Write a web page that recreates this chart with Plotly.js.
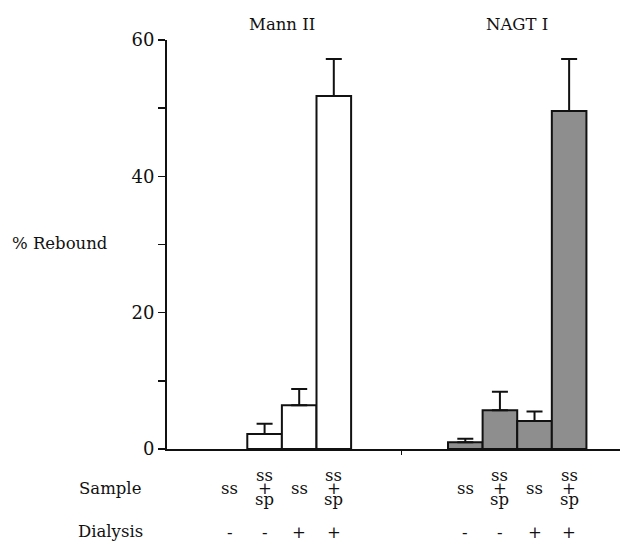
<!DOCTYPE html>
<html>
<head>
<meta charset="utf-8">
<script src="https://cdn.plot.ly/plotly-3.0.1.min.js"></script>
<style>html,body{margin:0;padding:0;background:#fff;}#chart{width:634px;height:544px;}</style>
</head>
<body>
<div id="chart"></div>
<script>
// ---- data ----
var groups = ["Mann II", "NAGT I"];
var sampleLabels = ["ss", "ss+sp", "ss", "ss+sp"];
var dialysisLabels = ["-", "-", "+", "+"];
var mannValues = [0, 2.2, 6.4, 51.8];
var mannErrors = [0, 1.5, 2.4, 5.4];
var nagtValues = [1.0, 5.7, 4.1, 49.6];
var nagtErrors = [0.5, 2.7, 1.4, 7.6];
var yTicks = [0, 10, 20, 30, 40, 50, 60];
var yTickText = ["0", "", "20", "", "40", "", "60"];

// ---- layout helpers ----
var groupStart = [0, 6.8];
function xs(g) { return sampleLabels.map(function (_, i) { return groupStart[g] + i; }); }
var serif = "DejaVu Serif, Liberation Serif, serif";
var FS = 16.5;
var plotTop = 40, plotBottom = 449, H = 544, W = 634;
var plotLeft = 167, plotRight = 620;
function py(pix) { return (plotBottom - pix) / (plotBottom - plotTop); }
function px(pix) { return (pix - plotLeft) / (plotRight - plotLeft); }

function barTrace(g, vals, errs, fill) {
  return {
    type: "bar", x: xs(g), y: vals, width: 1,
    marker: { color: fill, line: { color: "#111", width: vals.map(function (v) { return v > 0 ? 2 : 0; }) } },
    error_y: { type: "data", symmetric: false,
               array: errs.map(function (e, i) { return vals[i] > 0 ? e : NaN; }),
               arrayminus: errs.map(function (e, i) { return vals[i] > 0 ? 0 : NaN; }),
               color: "#111", thickness: 2, width: 8 },
    hoverinfo: "none"
  };
}
var traces = [
  barTrace(0, mannValues, mannErrors, "#ffffff"),
  barTrace(1, nagtValues, nagtErrors, "#8e8e8e")
];

var ann = [];
function t(x, xref, ypix, text, xanchor) {
  ann.push({ x: x, y: py(ypix), xref: xref, yref: "paper", xanchor: xanchor || "center", yanchor: "middle",
             text: text, showarrow: false, font: { family: serif, size: FS, color: "#111" } });
}
groups.forEach(function (g, gi) { t(groupStart[gi] + 1.5, "x", 24, g); });

[0, 1].forEach(function (g) {
  var xv = xs(g);
  sampleLabels.forEach(function (s, i) {
    if (s.indexOf("+") < 0) {
      t(xv[i], "x", 488, s);
    } else {
      var parts = [s.split("+")[0], "+", s.split("+")[1]];
      var ys = [475, 488, 499];
      parts.forEach(function (p, k) { t(xv[i], "x", ys[k], p); });
    }
    t(xv[i], "x", 532, dialysisLabels[i]);
  });
});
t(px(110), "paper", 488, "Sample");
t(px(110), "paper", 531, "Dialysis");
t(px(10), "paper", 243, "% Rebound", "left");

var layout = {
  width: W, height: H,
  margin: { l: plotLeft, r: W - plotRight, t: plotTop, b: H - plotBottom },
  paper_bgcolor: "#fff", plot_bgcolor: "#fff",
  showlegend: false,
  bargap: 0,
  xaxis: {
    range: [-1.82, 11.27], showgrid: false, zeroline: false,
    showline: true, linecolor: "#111", linewidth: 2,
    tickvals: [4.96], ticks: "outside", ticklen: 4, tickwidth: 1.5, tickcolor: "#111",
    showticklabels: false, fixedrange: true
  },
  yaxis: {
    range: [0, 60], showgrid: false, zeroline: false,
    showline: true, linecolor: "#111", linewidth: 2,
    tickvals: yTicks, ticktext: yTickText, ticks: "outside", ticklen: 7, tickwidth: 1.5, tickcolor: "#111",
    tickfont: { family: serif, size: 18, color: "#111" }, fixedrange: true
  },
  annotations: ann
};

Plotly.newPlot("chart", traces, layout, { staticPlot: true });
</script>
</body>
</html>
